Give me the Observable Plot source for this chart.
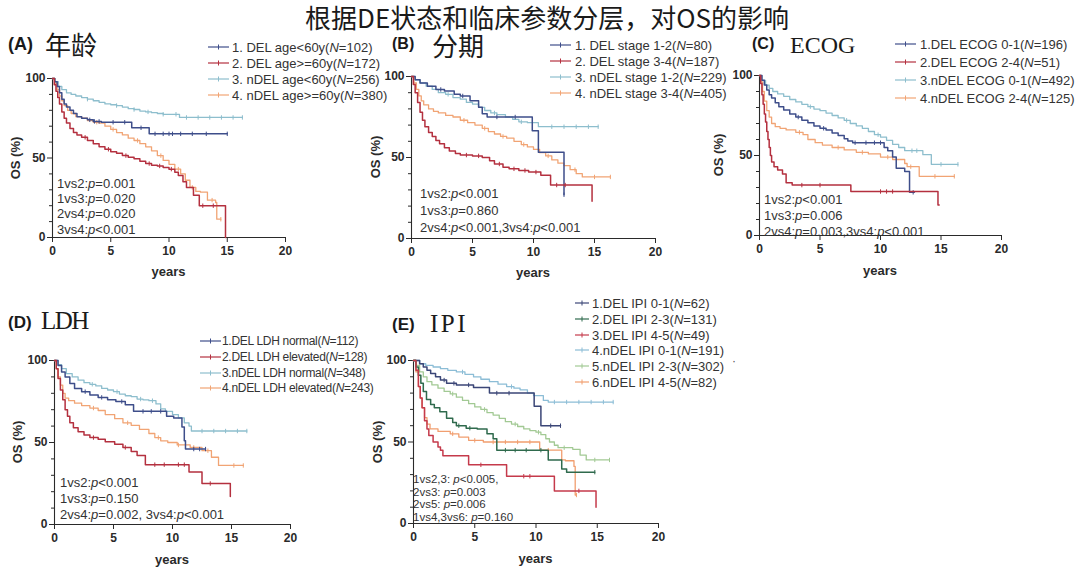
<!DOCTYPE html>
<html><head><meta charset="utf-8">
<script src="https://cdn.jsdelivr.net/npm/d3@7"></script>
<script src="https://cdn.jsdelivr.net/npm/@observablehq/plot@0.6"></script>
<style>
body{margin:0;background:#fff;}
#root{position:relative;width:1080px;height:574px;overflow:hidden;font-family:"Liberation Sans",Arial,sans-serif;color:#333;background:#fff}
.t{position:absolute;white-space:nowrap;line-height:1}
</style></head><body><div id="root"></div>
<script>
// ---------------- data ----------------
const titleText = "根据DE状态和临床参数分层，对OS的影响";
const yearTicks = [0, 5, 10, 15, 20];
const osTicks = [0, 50, 100];
const osMinorTicks = [10, 20, 30, 40, 60, 70, 80, 90];

// Panel A: age
const A_names = ["1. DEL age<60y", "2. DEL age>=60y", "3. nDEL age<60y", "4. nDEL age>=60y"];
const A_N = [102, 172, 256, 380];
const A_p = ["1vs2:p=0.001", "1vs3:p=0.020", "2vs4:p=0.020", "3vs4:p<0.001"];
const A1 = [[0,100],[0.2,98],[0.4,95],[0.6,91],[0.8,87],[1.0,84],[1.2,82],[1.5,80],[1.8,78],[2.1,76],[2.5,75],[3.0,74],[3.5,73],[4.2,72.5],[6.8,69],[8.3,65.2],[15.0,65.2]];
const A2 = [[0,100],[0.15,96],[0.3,92],[0.45,88],[0.6,84],[0.8,79],[1.0,75],[1.2,72],[1.5,68.5],[1.8,66],[2.1,64.5],[2.5,63],[3.0,61],[3.5,59],[4.0,57],[4.5,55.5],[5.0,54],[5.5,53],[6.0,51.5],[6.5,50.5],[7.0,49.5],[7.5,48],[8.0,46.5],[8.5,45.5],[9.0,45],[9.5,44],[10.0,43],[10.5,41],[10.8,39],[11.2,35],[11.5,31.5],[12.1,26.5],[12.6,20],[14.85,0]];
const A3 = [[0,100],[0.2,98],[0.5,95],[0.8,93],[1.2,91],[1.6,90],[2.0,89],[2.5,88],[3.0,87],[3.5,86],[4.0,85],[4.5,84],[5.0,83.5],[5.5,83],[6.0,82],[6.5,81],[7.0,80.5],[7.5,79.5],[8.0,79],[8.5,78.5],[9.0,78],[9.5,77.5],[10.9,75.5],[16.3,75.5]];
const A4 = [[0,100],[0.2,97],[0.4,93],[0.6,89],[0.8,86],[1.0,83],[1.3,80],[1.6,78],[2.0,76],[2.5,75],[3.0,73.5],[3.5,72.5],[4.0,72],[4.5,70],[5.0,68],[5.5,66],[6.0,64.5],[6.5,62.5],[7.0,61],[7.5,59],[8.0,57],[8.5,54.5],[9.0,51.5],[9.5,48.5],[10.0,46],[10.5,43],[11.0,40],[11.4,36],[11.8,31.5],[12.3,29],[12.7,28.5],[13.3,23.5],[14.0,22],[14.1,11.5],[14.45,11.5]];
const A1c = [3.2,3.6,4.0,5.2,6.2,7.6,8.8,9.5,10.0,10.3,11.0,12.0,13.2,15.0];
const A2c = [2.8,4.8,6.3,8.3,9.2,10.2,12.9,13.8];
const A3c = [3.0,5.5,7.0,8.2,9.5,10.6,11.5,12.5,13.5,14.5,15.5,16.3];
const A4c = [3.8,5.2,7.3,9.3,10.8,12.0,13.7,14.45];

// Panel B: stage
const B_names = ["1. DEL stage 1-2", "2. DEL stage 3-4", "3. nDEL stage 1-2", "4. nDEL stage 3-4"];
const B_N = [80, 187, 229, 405];
const B_p = ["1vs2:p<0.001", "1vs3:p=0.860", "2vs4:p<0.001,3vs4:p<0.001"];
const B1 = [[0,100],[0.3,98],[0.7,96],[1.3,94],[2.0,92],[2.7,91],[3.5,89],[4.0,88],[4.8,85],[5.5,81],[5.8,77],[6.2,75],[9.9,66.5],[10.4,53.2],[12.5,27]];
const B2 = [[0,100],[0.15,95],[0.3,90],[0.5,84],[0.7,78],[0.9,73],[1.1,69],[1.4,65.5],[1.7,63],[2.0,60.5],[2.3,58.5],[2.7,56],[3.1,54],[3.6,52.5],[4.0,51.5],[5.0,51],[5.8,50],[6.4,48],[6.8,46],[7.5,44],[8.0,43],[8.8,42],[9.6,41],[10.6,39],[11.4,33],[14.8,23]];
const B3 = [[0,100],[0.3,98],[0.7,96],[1.2,94],[1.7,92],[2.2,90],[2.8,89],[3.4,87],[4.0,86],[4.5,84],[5.0,83],[5.5,81],[6.0,79],[6.5,77.5],[7.0,76.5],[7.7,75],[8.3,73.5],[8.8,72],[9.5,71.5],[10.4,69],[15.3,69]];
const B4 = [[0,100],[0.2,96],[0.4,92],[0.6,88],[0.8,85],[1.0,82.5],[1.4,80],[1.8,78.5],[2.2,77.5],[2.8,76],[3.4,75],[4.0,73],[4.6,71.5],[5.2,70],[5.8,68],[6.3,66],[6.8,64.5],[7.3,63],[7.8,62],[8.4,60],[9.0,58],[9.5,56.5],[10.0,55],[10.5,53],[11.0,51],[11.5,48.5],[12.0,46.5],[12.5,45],[13.0,42.5],[13.5,40],[14.0,38],[16.3,38]];
const B1c = [2.4,4.2,7.0,8.5,12.5];
const B2c = [4.5,5.5,7.2,8.4,9.3,10.2,11.9,12.6];
const B3c = [3.0,6.8,9.0,11.5,12.5,13.5,14.5,15.3];
const B4c = [4.3,6.0,7.5,9.2,11.2,13.4,15.0,16.3];

// Panel C: ECOG
const C_names = ["1.DEL ECOG 0-1", "2.DEL ECOG 2-4", "3.nDEL ECOG 0-1", "4.nDEL ECOG 2-4"];
const C_N = [196, 51, 492, 125];
const C_p = ["1vs2:p<0.001", "1vs3:p=0.006", "2vs4:p=0.003,3vs4:p<0.001"];
const C1 = [[0,100],[0.2,97],[0.4,94],[0.6,91],[0.8,88],[1.0,86],[1.3,83],[1.6,80.5],[2.0,78.5],[2.5,76],[3.0,74],[3.5,72],[4.0,70.5],[4.5,68.5],[5.0,67],[5.5,66],[6.0,64],[6.5,62.5],[7.0,60.5],[7.3,59],[7.7,58],[10.3,55],[10.6,53],[11.0,49],[11.3,42],[12.0,40],[12.4,27],[12.8,27]];
const C2 = [[0,100],[0.1,95],[0.2,88],[0.3,82],[0.4,76],[0.5,71],[0.6,65],[0.7,60],[0.8,55],[0.9,50],[1.0,46],[1.2,43],[1.5,41],[1.9,38.5],[2.2,33],[2.7,31.5],[7.55,27.5],[14.75,19],[14.85,19]];
const C3 = [[0,100],[0.2,97],[0.5,94],[0.8,92],[1.1,90],[1.5,88.5],[2.0,87],[2.5,85],[3.0,83.5],[3.5,82],[4.0,80.5],[4.5,79],[5.0,78],[5.5,76.5],[6.0,75],[6.5,73.5],[7.0,72],[7.5,70],[8.0,68.5],[8.5,67],[9.0,65],[9.5,63],[10.0,61.5],[10.5,59.5],[11.0,57],[11.5,55],[12.0,53],[13.5,50.5],[14.2,44.5],[16.4,44.5]];
const C4 = [[0,100],[0.1,96],[0.25,90],[0.4,84],[0.6,78],[0.8,74],[1.0,70],[1.3,68],[1.7,67],[2.2,66],[3.0,64.5],[3.6,63],[4.0,60],[4.6,58],[5.2,56.5],[6.0,55],[7.0,53.5],[8.0,52],[9.0,51],[10.0,49],[11.0,47.5],[12.0,45],[12.2,43],[13.2,37],[16.1,37]];
const C1c = [3.2,5.3,7.9,8.8,9.5,10.0,12.7];
const C2c = [3.5,5.0,10.0,10.5,11.0];
const C3c = [4.2,7.2,9.8,12.6,13.0,15.0,16.4];
const C4c = [3.3,6.5,8.5,10.6,12.5,14.5,16.1];

// Panel D: LDH
const D_names = ["1.DEL LDH normal", "2.DEL LDH elevated", "3.nDEL LDH normal", "4.nDEL LDH elevated"];
const D_N = [112, 128, 348, 243];
const D_p = ["1vs2:p<0.001", "1vs3:p=0.150", "2vs4:p=0.002, 3vs4:p<0.001"];
const D1 = [[0,100],[0.3,97],[0.6,93],[0.9,90],[1.3,86],[1.7,83],[2.3,81],[3.0,79],[3.7,77.5],[4.5,76],[5.2,75],[6.0,73],[6.7,69],[9.5,66],[10.1,65],[10.8,59.5],[11.0,51],[11.1,46],[12.8,46]];
const D2 = [[0,100],[0.15,95],[0.3,89],[0.5,82],[0.7,76],[0.9,70],[1.1,66],[1.3,62],[1.6,59],[2.0,56.5],[2.5,54.5],[3.0,53],[3.7,52],[4.3,50.5],[5.1,49],[5.8,47],[6.5,44.5],[7.0,42],[7.7,36.5],[11.4,32],[12.5,25],[14.9,17]];
const D3 = [[0,100],[0.3,97.5],[0.6,95],[1.0,92],[1.5,90],[2.0,88],[2.5,86.5],[3.0,85.5],[3.5,84.5],[4.0,83],[4.5,82],[5.0,81],[5.5,79.5],[6.0,78.5],[6.5,78],[7.0,76.5],[7.5,76],[8.0,75.5],[8.6,73.5],[9.0,70.5],[9.4,69],[10.0,67],[10.5,65],[11.0,62],[11.4,60],[11.6,57],[16.3,57]];
const D4 = [[0,100],[0.15,95],[0.3,90],[0.5,85],[0.7,80],[0.9,77],[1.2,75.5],[1.7,74],[2.3,72.5],[3.0,71],[3.7,69.5],[4.3,67],[5.1,64.5],[5.8,62],[6.5,60.5],[7.2,58],[8.0,55.5],[8.5,53],[9.0,51],[9.6,50],[10.4,48.5],[11.5,47],[12.5,45],[13.3,41],[13.9,36],[16.0,36]];
const D1c = [2.6,4.0,5.7,7.5,8.2,9.0,11.8,12.3,12.8];
const D2c = [3.3,6.0,8.5,9.3,10.5,11.0,13.2];
const D3c = [3.2,5.3,7.3,8.3,12.5,13.5,14.5,15.5,16.3];
const D4c = [3.3,6.2,8.8,10.5,11.8,13.0,15.2,16.0];

// Panel E: IPI
const E_names = ["1.DEL IPI 0-1", "2.DEL IPI 2-3", "3.DEL IPI 4-5", "4.nDEL IPI 0-1", "5.nDEL IPI 2-3", "6.nDEL IPI 4-5"];
const E_N = [62, 131, 49, 191, 302, 82];
const E_p = ["1vs2,3: p<0.005,", "2vs3: p=0.003", "2vs5: p=0.006", "1vs4,3vs6: p=0.160"];
const E1 = [[0,100],[0.5,98],[0.8,96],[1.1,94],[1.4,92],[1.8,90],[2.2,88],[2.7,86],[3.5,85],[4.9,83.5],[6.2,80],[9.85,72],[10.4,60],[12.0,60]];
const E2 = [[0,100],[0.2,96],[0.4,91],[0.6,86],[0.8,81],[1.06,76],[1.4,73],[1.7,71],[2.15,68.5],[2.7,64.5],[3.2,62],[3.5,60],[4.3,58.5],[5.2,58],[6.0,55],[6.5,52],[6.8,45],[11.0,39],[12.1,33.5],[12.5,31.5],[14.8,31.5]];
const E3 = [[0,100],[0.2,94],[0.4,84],[0.55,77],[0.7,71],[0.9,63],[1.1,58],[1.25,54],[1.6,50],[2.0,47],[2.2,45],[2.4,41.5],[4.5,36],[7.6,29],[11.5,20],[14.9,10]];
const E4 = [[0,100],[0.5,98],[1.0,97],[1.6,96],[2.2,95],[2.8,94],[3.5,93],[4.2,91.5],[4.9,90],[5.5,88.5],[6.2,87],[6.9,85.5],[7.6,84],[8.2,83],[8.7,82],[9.3,80],[9.8,78.5],[10.6,75.5],[11.0,74.5],[16.3,74.5]];
const E5 = [[0,100],[0.2,97],[0.5,93],[0.8,90],[1.1,87],[1.5,85],[2.0,83],[2.5,81],[3.0,79.5],[3.5,77.5],[4.0,75.5],[4.5,73.5],[5.0,71.5],[5.5,70],[6.0,68],[6.5,66.5],[7.0,64.5],[7.5,62.5],[8.0,61],[8.5,59.5],[9.0,58],[9.5,57],[10.0,56],[10.4,54.5],[10.8,52],[11.1,50],[11.5,48],[11.8,46.5],[13.0,45.5],[13.6,42],[14.1,39],[16.0,39]];
const E6 = [[0,100],[0.2,93],[0.4,84],[0.55,77],[0.7,71],[0.9,65],[1.1,61],[1.35,58],[2.0,56.5],[3.0,55],[3.7,53],[4.5,51],[5.7,50],[10.3,45],[12.1,39],[12.4,38.5],[13.1,35],[13.2,17.5],[13.3,17.5]];
const E1c = [2.5,3.3,4.5,6.8,7.8,11.2,12.0];
const E2c = [3.7,4.6,7.5,8.3,9.2,10.4,14.8];
const E3c = [5.5,9.0,9.5,13.5];
const E4c = [4.0,8.0,11.5,12.5,13.5,14.5,15.5,16.3];
const E5c = [3.2,5.8,8.3,10.2,12.3,14.8,16.0];
const E6c = [3.2,5.0,6.5,7.5,8.5,9.5,11.0,13.3];

// ---------------- styles ----------------
const col4 = ["#3e4e8a", "#b4303f", "#8dbecd", "#f1a474"];
const col6 = ["#3b4677", "#2f6a4d", "#c53a4b", "#8cbdd6", "#a2c994", "#f19e6f"];

const root = document.getElementById("root");
function esc(s){ return s.replace(/&/g,"&amp;").replace(/</g,"&lt;").replace(/>/g,"&gt;"); }
function addText(html, x, y, css, anchor) {
  const d = document.createElement("div");
  d.className = "t";
  d.innerHTML = html;
  d.style.left = x + "px";
  d.style.top = y + "px";
  d.style.transform = anchor === "center" ? "translate(-50%,-50%)" :
                      anchor === "rot" ? "translate(-50%,-50%) rotate(-90deg)" : "translateY(-50%)";
  Object.assign(d.style, css || {});
  root.appendChild(d);
  return d;
}
const tickSym = { draw(ctx, size) { const r = Math.sqrt(size / Math.PI); ctx.moveTo(0, -r); ctx.lineTo(0, r); } };
function survAt(curve, t) {
  let s = curve[0][1];
  for (const p of curve) { if (p[0] <= t) s = p[1]; else break; }
  return s;
}

function panel(cfg) {
  const mL = 40, mR = 12, mT = 8, mB = 30;
  const W = cfg.x20 - cfg.x0 + mL + mR, H = cfg.y0 - cfg.y100 + mT + mB;
  const marks = [
    Plot.axisY({ticks: osMinorTicks, tickSize: 3, tickFormat: () => "", label: null}),
    Plot.axisY({ticks: osTicks, tickSize: 5, tickPadding: 2, label: null}),
    Plot.axisX({ticks: yearTicks, tickSize: 5, tickPadding: 4, label: null}),
    Plot.ruleX([0], {y1: 0, y2: 100, stroke: "currentColor", strokeWidth: 1.1}),
    Plot.ruleY([0], {x1: 0, x2: 20, stroke: "currentColor", strokeWidth: 1.1})
  ];
  cfg.order.forEach(i => {
    const c = cfg.curves[i];
    marks.push(Plot.line(c, {x: d => d[0], y: d => d[1], stroke: cfg.colors[i], strokeWidth: cfg.widths[i], curve: "step-after"}));
    const cens = cfg.censor[i].map(t => ({t, s: survAt(c, t)}));
    marks.push(Plot.dot(cens, {x: "t", y: "s", symbol: tickSym, r: 2.2, stroke: cfg.colors[i], strokeWidth: 1, fill: "none"}));
  });
  const svg = Plot.plot({
    width: W, height: H, marginLeft: mL, marginRight: mR, marginTop: mT, marginBottom: mB,
    x: {domain: [0, 20]}, y: {domain: [0, 100]},
    style: {background: "transparent", overflow: "visible", maxWidth: "none", color: "#2a2a2a",
            fontFamily: "'Liberation Sans', Arial, sans-serif", fontSize: "12px", fontWeight: "bold"},
    marks
  });
  svg.style.position = "absolute";
  svg.style.left = (cfg.x0 - mL) + "px";
  svg.style.top = (cfg.y100 - mT) + "px";
  root.appendChild(svg);

  // axis titles
  addText("years", (cfg.x0 + cfg.x20) / 2, cfg.yearsY, {fontWeight: "bold", fontSize: "13px", color: "#2a2a2a"}, "center");
  addText("OS (%)", cfg.osX, (cfg.y0 + cfg.y100) / 2, {fontWeight: "bold", fontSize: "13px", color: "#2a2a2a"}, "rot");

  // legend
  cfg.names.forEach((nm, i) => {
    const y = cfg.leg.y + cfg.leg.dy * i;
    const s = document.createElementNS("http://www.w3.org/2000/svg", "svg");
    const lw = cfg.leg.x2 - cfg.leg.x1;
    s.setAttribute("width", lw); s.setAttribute("height", 8);
    s.style.position = "absolute"; s.style.left = cfg.leg.x1 + "px"; s.style.top = (y - 4) + "px";
    s.innerHTML = `<line x1="0" y1="4" x2="${lw}" y2="4" stroke="${cfg.colors[i]}" stroke-width="1.2"/><line x1="${lw/2}" y1="1.5" x2="${lw/2}" y2="6.5" stroke="${cfg.colors[i]}" stroke-width="1"/>`;
    root.appendChild(s);
    addText(esc(nm) + "(<i>N</i>=" + cfg.N[i] + ")", cfg.leg.tx, y, Object.assign({fontSize: "13px", color: "#333"}, cfg.leg.css || {}));
  });

  // p-values
  cfg.p.forEach((line, i) => {
    const html = esc(line).replace(/(:\s?)p/g, "$1<i>p</i>");
    addText(html, cfg.pp.x, cfg.pp.y + cfg.pp.dy * i, {fontSize: cfg.pp.fs, color: "#333"});
  });

  // panel title
  addText(cfg.tag, cfg.tagX, cfg.tagY, {fontWeight: "bold", fontSize: cfg.tagFs, color: "#1a1a1a"});
  addText(cfg.name, cfg.nameX, cfg.nameY, Object.assign({color: "#1a1a1a"}, cfg.nameCss));
}

// main title
addText(titleText, 547, 17, {fontFamily: "'Noto Sans CJK SC', sans-serif", fontSize: "26px", color: "#1a1a1a", lineHeight: "26px"}, "center");

const cjk = {fontFamily: "'Noto Sans CJK SC', sans-serif", fontSize: "26px", lineHeight: "26px"};
const serif = {fontFamily: "'Liberation Serif', 'DejaVu Serif', serif", fontSize: "24px"};

panel({x0: 52, x20: 285, y100: 78, y0: 237, curves: [A1, A2, A3, A4], censor: [A1c, A2c, A3c, A4c],
  colors: col4, widths: [1.5, 1.5, 1.3, 1.3], order: [2, 3, 0, 1],
  names: A_names, N: A_N, p: A_p, yearsY: 271, osX: 15,
  leg: {x1: 208, x2: 229, tx: 232, y: 46.5, dy: 16}, pp: {x: 57, y: 183, dy: 15.2, fs: "13px"},
  tag: "(A)", tagX: 8, tagY: 44, tagFs: "18px", name: "年龄", nameX: 45, nameY: 44, nameCss: cjk});

panel({x0: 411, x20: 655, y100: 76, y0: 238, curves: [B1, B2, B3, B4], censor: [B1c, B2c, B3c, B4c],
  colors: col4, widths: [1.5, 1.5, 1.3, 1.3], order: [2, 3, 0, 1],
  names: B_names, N: B_N, p: B_p, yearsY: 272, osX: 375,
  leg: {x1: 550, x2: 571, tx: 575, y: 44.5, dy: 16}, pp: {x: 420, y: 193, dy: 17, fs: "13px"},
  tag: "(B)", tagX: 392, tagY: 44, tagFs: "16px", name: "分期", nameX: 432, nameY: 45, nameCss: cjk});

panel({x0: 759, x20: 1001, y100: 75, y0: 235, curves: [C1, C2, C3, C4], censor: [C1c, C2c, C3c, C4c],
  colors: col4, widths: [1.5, 1.5, 1.3, 1.3], order: [2, 3, 0, 1],
  names: C_names, N: C_N, p: C_p, yearsY: 270, osX: 718,
  leg: {x1: 895, x2: 916, tx: 920, y: 43.5, dy: 18}, pp: {x: 764, y: 199, dy: 16, fs: "13px"},
  tag: "(C)", tagX: 752, tagY: 44, tagFs: "16px", name: "ECOG", nameX: 790, nameY: 45, nameCss: serif});

panel({x0: 54, x20: 290, y100: 360, y0: 524, curves: [D1, D2, D3, D4], censor: [D1c, D2c, D3c, D4c],
  colors: col4, widths: [1.5, 1.5, 1.3, 1.3], order: [2, 3, 0, 1],
  names: D_names, N: D_N, p: D_p, yearsY: 559, osX: 17,
  leg: {x1: 200, x2: 221, tx: 222, y: 341, dy: 15.8, css: {fontSize: "12px", letterSpacing: "-0.3px"}},
  pp: {x: 60, y: 482, dy: 16, fs: "13px"},
  tag: "(D)", tagX: 8, tagY: 322, tagFs: "17px", name: "LDH", nameX: 41, nameY: 320, nameCss: Object.assign({}, serif, {fontSize: "25px", letterSpacing: "-1.5px"})});

panel({x0: 413, x20: 658, y100: 360, y0: 523, curves: [E1, E2, E3, E4, E5, E6], censor: [E1c, E2c, E3c, E4c, E5c, E6c],
  colors: col6, widths: [1.5, 1.5, 1.5, 1.3, 1.3, 1.3], order: [3, 4, 5, 0, 1, 2],
  names: E_names, N: E_N, p: E_p, yearsY: 558, osX: 377,
  leg: {x1: 575, x2: 589, tx: 592, y: 303, dy: 15.8}, pp: {x: 413, y: 480, dy: 12.6, fs: "11.5px"},
  tag: "(E)", tagX: 392, tagY: 324, tagFs: "17px", name: "IPI", nameX: 430, nameY: 323, nameCss: Object.assign({}, serif, {fontSize: "25px", letterSpacing: "2.5px"})});

// small stray dot in the reference next to legend E
addText("·", 734, 361, {fontSize: "12px", color: "#555"}, "center");
</script></body></html>
